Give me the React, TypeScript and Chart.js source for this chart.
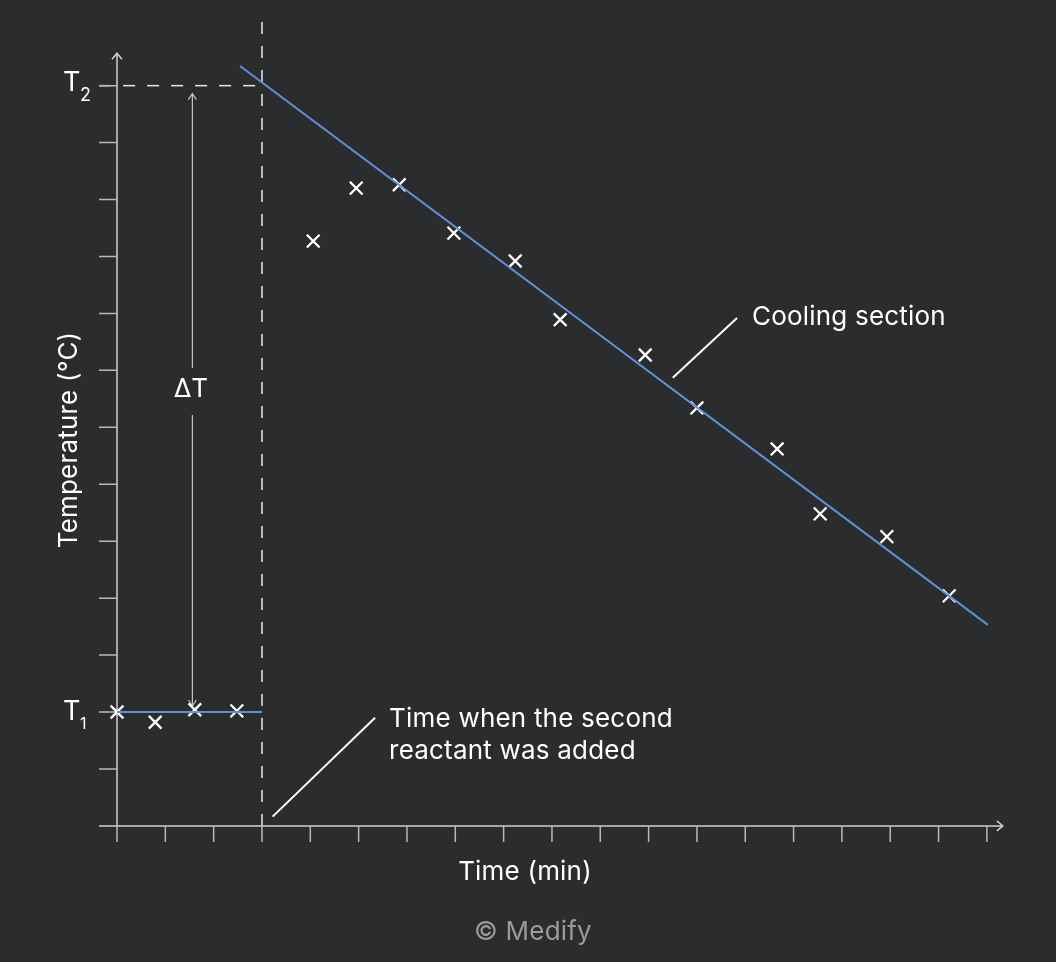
import React, { useEffect, useRef } from "react";
import { Chart, registerables } from "chart.js";

Chart.register(...registerables);

// ---- data (in axis tick units) ----
const xTicks = [0, 1, 2, 3, 4, 5, 6, 7, 8, 9, 10, 11, 12, 13, 14, 15, 16, 17, 18];
const yTicks = [0, 1, 2, 3, 4, 5, 6, 7, 8, 9, 10, 11, 12, 13];
const levelNames = ["T", "T"];
const levelSubs = ["1", "2"];
const levelValues = [2, 13];

const preX = [0, 0.79, 1.61, 2.48];
const preY = [2.0, 1.82, 2.04, 2.02];
const postX = [4.06, 4.95, 5.84, 6.97, 8.24, 9.17, 10.93, 12.0, 13.66, 14.55, 15.93, 17.22];
const postY = [10.27, 11.2, 11.26, 10.41, 9.92, 8.89, 8.27, 7.34, 6.62, 5.48, 5.08, 4.04];

const baselineX = [0, 3];
const baselineY = [2, 2];
const coolingX = [2.545, 18.02];
const coolingY = [13.345, 3.53];
const additionTime = 3;

const BG = "#2b2c2e";
const BLUE = "#5e92d8";
const FONT = "Inter, 'Noto Sans', sans-serif";

const pts = (xs: number[], ys: number[]) => xs.map((x, i) => ({ x, y: ys[i] }));

export default function App() {
  const ref = useRef<HTMLCanvasElement | null>(null);

  useEffect(() => {
    const canvas = ref.current;
    if (!canvas) return;

    const overlay = {
      id: "overlay",
      beforeDraw(chart: any) {
        const c = chart.ctx;
        c.save();
        c.fillStyle = BG;
        c.fillRect(0, 0, chart.width, chart.height);
        c.restore();
      },
      beforeDatasetsDraw(chart: any) {
        const c = chart.ctx;
        const xs = chart.scales.x;
        const ys = chart.scales.y;
        const X = (v: number) => xs.getPixelForValue(v);
        const Y = (v: number) => ys.getPixelForValue(v);
        const x0 = X(0);
        const y0 = Y(0);
        c.save();

        // dashed guides
        c.strokeStyle = "#e8e8e8";
        c.lineWidth = 1.5;
        c.setLineDash([12, 12]);
        c.beginPath();
        c.moveTo(X(additionTime), Y(0));
        c.lineTo(X(additionTime), Y(14.2));
        c.stroke();
        c.beginPath();
        c.moveTo(X(-0.37), Y(levelValues[1]));
        c.lineTo(X(additionTime), Y(levelValues[1]));
        c.stroke();
        c.setLineDash([]);

        // axes
        c.strokeStyle = "#cfcfcf";
        c.lineWidth = 1.5;
        c.beginPath();
        c.moveTo(X(-0.37), y0);
        c.lineTo(X(18.33), y0);
        c.moveTo(x0, y0);
        c.lineTo(x0, Y(13.57));
        c.stroke();
        // arrowheads
        const ax = X(18.33);
        const ay = Y(13.57);
        c.beginPath();
        c.moveTo(ax - 6, y0 - 5);
        c.lineTo(ax, y0);
        c.lineTo(ax - 6, y0 + 5);
        c.moveTo(x0 - 5, ay + 6);
        c.lineTo(x0, ay);
        c.lineTo(x0 + 5, ay + 6);
        c.stroke();

        // ticks
        c.strokeStyle = "#b8b8b8";
        c.lineWidth = 1.5;
        c.beginPath();
        xTicks.forEach((t) => {
          c.moveTo(X(t), y0);
          c.lineTo(X(t), y0 + 16);
        });
        yTicks.forEach((t) => {
          if (t === 0) return;
          c.moveTo(x0 - 18, Y(t));
          c.lineTo(x0, Y(t));
        });
        c.stroke();

        // level labels T1 / T2
        c.fillStyle = "#ffffff";
        c.textBaseline = "alphabetic";
        c.textAlign = "left";
        const tOff = [8, 5.5];
        const sOff = [16.5, 15];
        const sSize = [16, 18];
        levelValues.forEach((v, i) => {
          const py = Y(v);
          c.font = `27px ${FONT}`;
          c.fillText(levelNames[i], 63, py + tOff[i]);
          c.font = `${sSize[i]}px ${FONT}`;
          c.fillText(levelSubs[i], 80, py + sOff[i]);
        });

        // delta T arrow
        const dx = X(1.56);
        const top = Y(levelValues[1]) + 8;
        const bot = Y(levelValues[0]) - 6;
        const mid = Y(7.7);
        c.strokeStyle = "#c4c4c4";
        c.lineWidth = 1.2;
        c.beginPath();
        c.moveTo(dx, top);
        c.lineTo(dx, mid - 19.5);
        c.moveTo(dx, mid + 27.5);
        c.lineTo(dx, bot);
        c.moveTo(dx - 4, top + 6);
        c.lineTo(dx, top);
        c.lineTo(dx + 4, top + 6);
        c.moveTo(dx - 4, bot - 6);
        c.lineTo(dx, bot);
        c.lineTo(dx + 4, bot - 6);
        c.stroke();
        c.fillStyle = "#ffffff";
        c.textAlign = "center";
        c.textBaseline = "alphabetic";
        c.font = `26px ${FONT}`;
        c.fillText("ΔT", dx - 1.5, mid + 9.5);

        // annotation texts
        (c as any).letterSpacing = "0.2px";
        c.textAlign = "left";
        c.fillText("Cooling section", X(13.14), Y(8.94) + 8.3);
        c.fillText("Time when the second", X(5.63), Y(1.896) + 8.7);
        c.fillText("reactant was added", X(5.63), Y(1.334) + 8.7);

        // axis titles
        c.textAlign = "center";
        c.fillText("Time (min)", 525, 880);
        c.fillStyle = "#9a9a9a";
        c.fillText("© Medify", 533, 939.5);
        c.fillStyle = "#ffffff";
        c.save();
        c.translate(77.3, 440);
        c.rotate(-Math.PI / 2);
        c.fillText("Temperature (°C)", 0, 0);
        c.restore();

        c.restore();
      },
    };

    const lineDs = (data: any[], color: string, width: number) => ({
      type: "line" as const,
      data,
      borderColor: color,
      borderWidth: width,
      pointRadius: 0,
      fill: false,
      showLine: true,
    });

    const chart = new Chart(canvas, {
      type: "scatter",
      data: {
        datasets: [
          lineDs(pts(baselineX, baselineY), BLUE, 2),
          lineDs(pts(coolingX, coolingY), BLUE, 2),
          lineDs([{ x: 11.5, y: 7.87 }, { x: 12.83, y: 8.92 }], "#ffffff", 2),
          lineDs([{ x: 3.22, y: 0.163 }, { x: 5.34, y: 1.9 }], "#ffffff", 2),
          {
            data: pts(preX, preY).concat(pts(postX, postY)),
            pointStyle: "crossRot",
            pointRadius: 9,
            borderColor: "#ffffff",
            borderWidth: 2.3,
            backgroundColor: "#ffffff",
            showLine: false,
          } as any,
        ],
      },
      options: {
        responsive: false,
        animation: false,
        devicePixelRatio: 1,
        layout: { padding: 0, autoPadding: false },
        plugins: { legend: { display: false }, tooltip: { enabled: false } },
        scales: {
          x: { type: "linear", min: -2.421, max: 19.43, display: false },
          y: { type: "linear", min: -2.39, max: 14.504, display: false },
        },
      },
      plugins: [overlay],
    });

    return () => chart.destroy();
  }, []);

  return (
    <div style={{ position: "absolute", left: 0, top: 0, width: 1056, height: 962, background: BG }}>
      <canvas ref={ref} width={1056} height={962} style={{ display: "block" }} />
    </div>
  );
}
